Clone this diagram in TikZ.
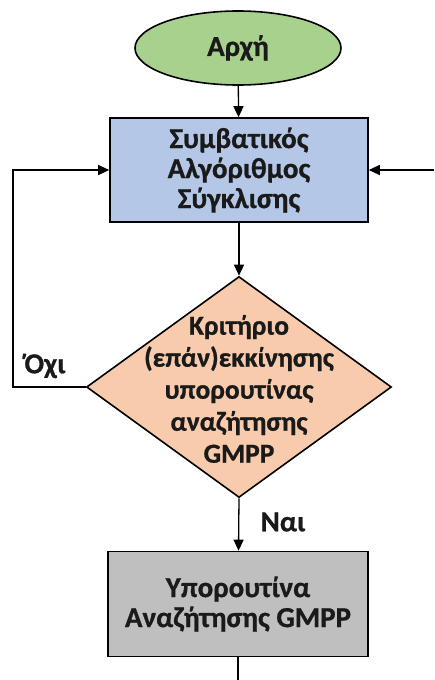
\documentclass[tikz,border=0pt]{standalone}
\usepackage{fontspec}
\setmainfont{Carlito}[BoldFont={Carlito Bold},BoldFeatures={FakeBold=0.8}]
\usetikzlibrary{shapes.geometric,arrows.meta}
\definecolor{startgreen}{HTML}{A9D18E}
\definecolor{algblue}{HTML}{B4C7E7}
\definecolor{critorange}{HTML}{F8CBAD}
\definecolor{subgray}{HTML}{BFBFBF}
\definecolor{ink}{HTML}{1A1A1A}
\begin{document}
\begin{tikzpicture}[x=1pt,y=-1pt,
  shape line/.style={draw=black,line width=1.6pt},
  boxtext/.style={font=\fontsize{29}{30}\selectfont\bfseries,text=ink,align=center},
  flow/.style={draw=black,line width=1.3pt,-{Triangle[length=11pt,width=10pt]}},
  plain/.style={draw=black,line width=1.3pt}]
\useasboundingbox (0,0) rectangle (434,680);
% start terminal
\node[ellipse,shape line,fill=startgreen,minimum width=206pt,minimum height=74pt,inner sep=0pt,boxtext] (start) at (238,48) {Αρχή};
% conventional tracking algorithm
\node[rectangle,shape line,fill=algblue,minimum width=258pt,minimum height=104pt,inner sep=0pt,boxtext] (alg) at (239,170) {Συμβατικός\\Αλγόριθμος\\Σύγκλισης};
% restart criterion
\node[diamond,shape line,fill=critorange,minimum width=305pt,minimum height=221pt,inner sep=0pt] (crit) at (239,387) {};
\node[boxtext,font=\fontsize{27.5}{32}\selectfont\bfseries] (crittext) at (239,389) {Κριτήριο\\(επάν)εκκίνησης\\υπορουτίνας\\αναζήτησης\\GMPP};
% GMPP search subroutine
\node[rectangle,shape line,fill=subgray,minimum width=260pt,minimum height=105pt,inner sep=0pt,boxtext] (gmpp) at (238,604) {Υπορουτίνα\\Αναζήτησης GMPP};
% free ends and bends
\coordinate (rightin) at (434,170);
\coordinate (bottomout) at (238,680);
\coordinate (loopA) at (13,387);
\coordinate (loopB) at (13,170);
% connectors
\draw[flow] (start) -- (alg);
\draw[flow] (alg) -- (crit.north);
\draw[flow] (crit.south) -- (gmpp);
\draw[flow] (crit.west) -- (loopA) -- (loopB) -- (alg.west);
\draw[flow] (rightin) -- (alg.east);
\draw[plain] (gmpp.south) -- (bottomout);
% branch labels
\node[boxtext] (no) at (45,366) {Όχι};
\node[boxtext] (yes) at (283,522) {Ναι};
\end{tikzpicture}
\end{document}
